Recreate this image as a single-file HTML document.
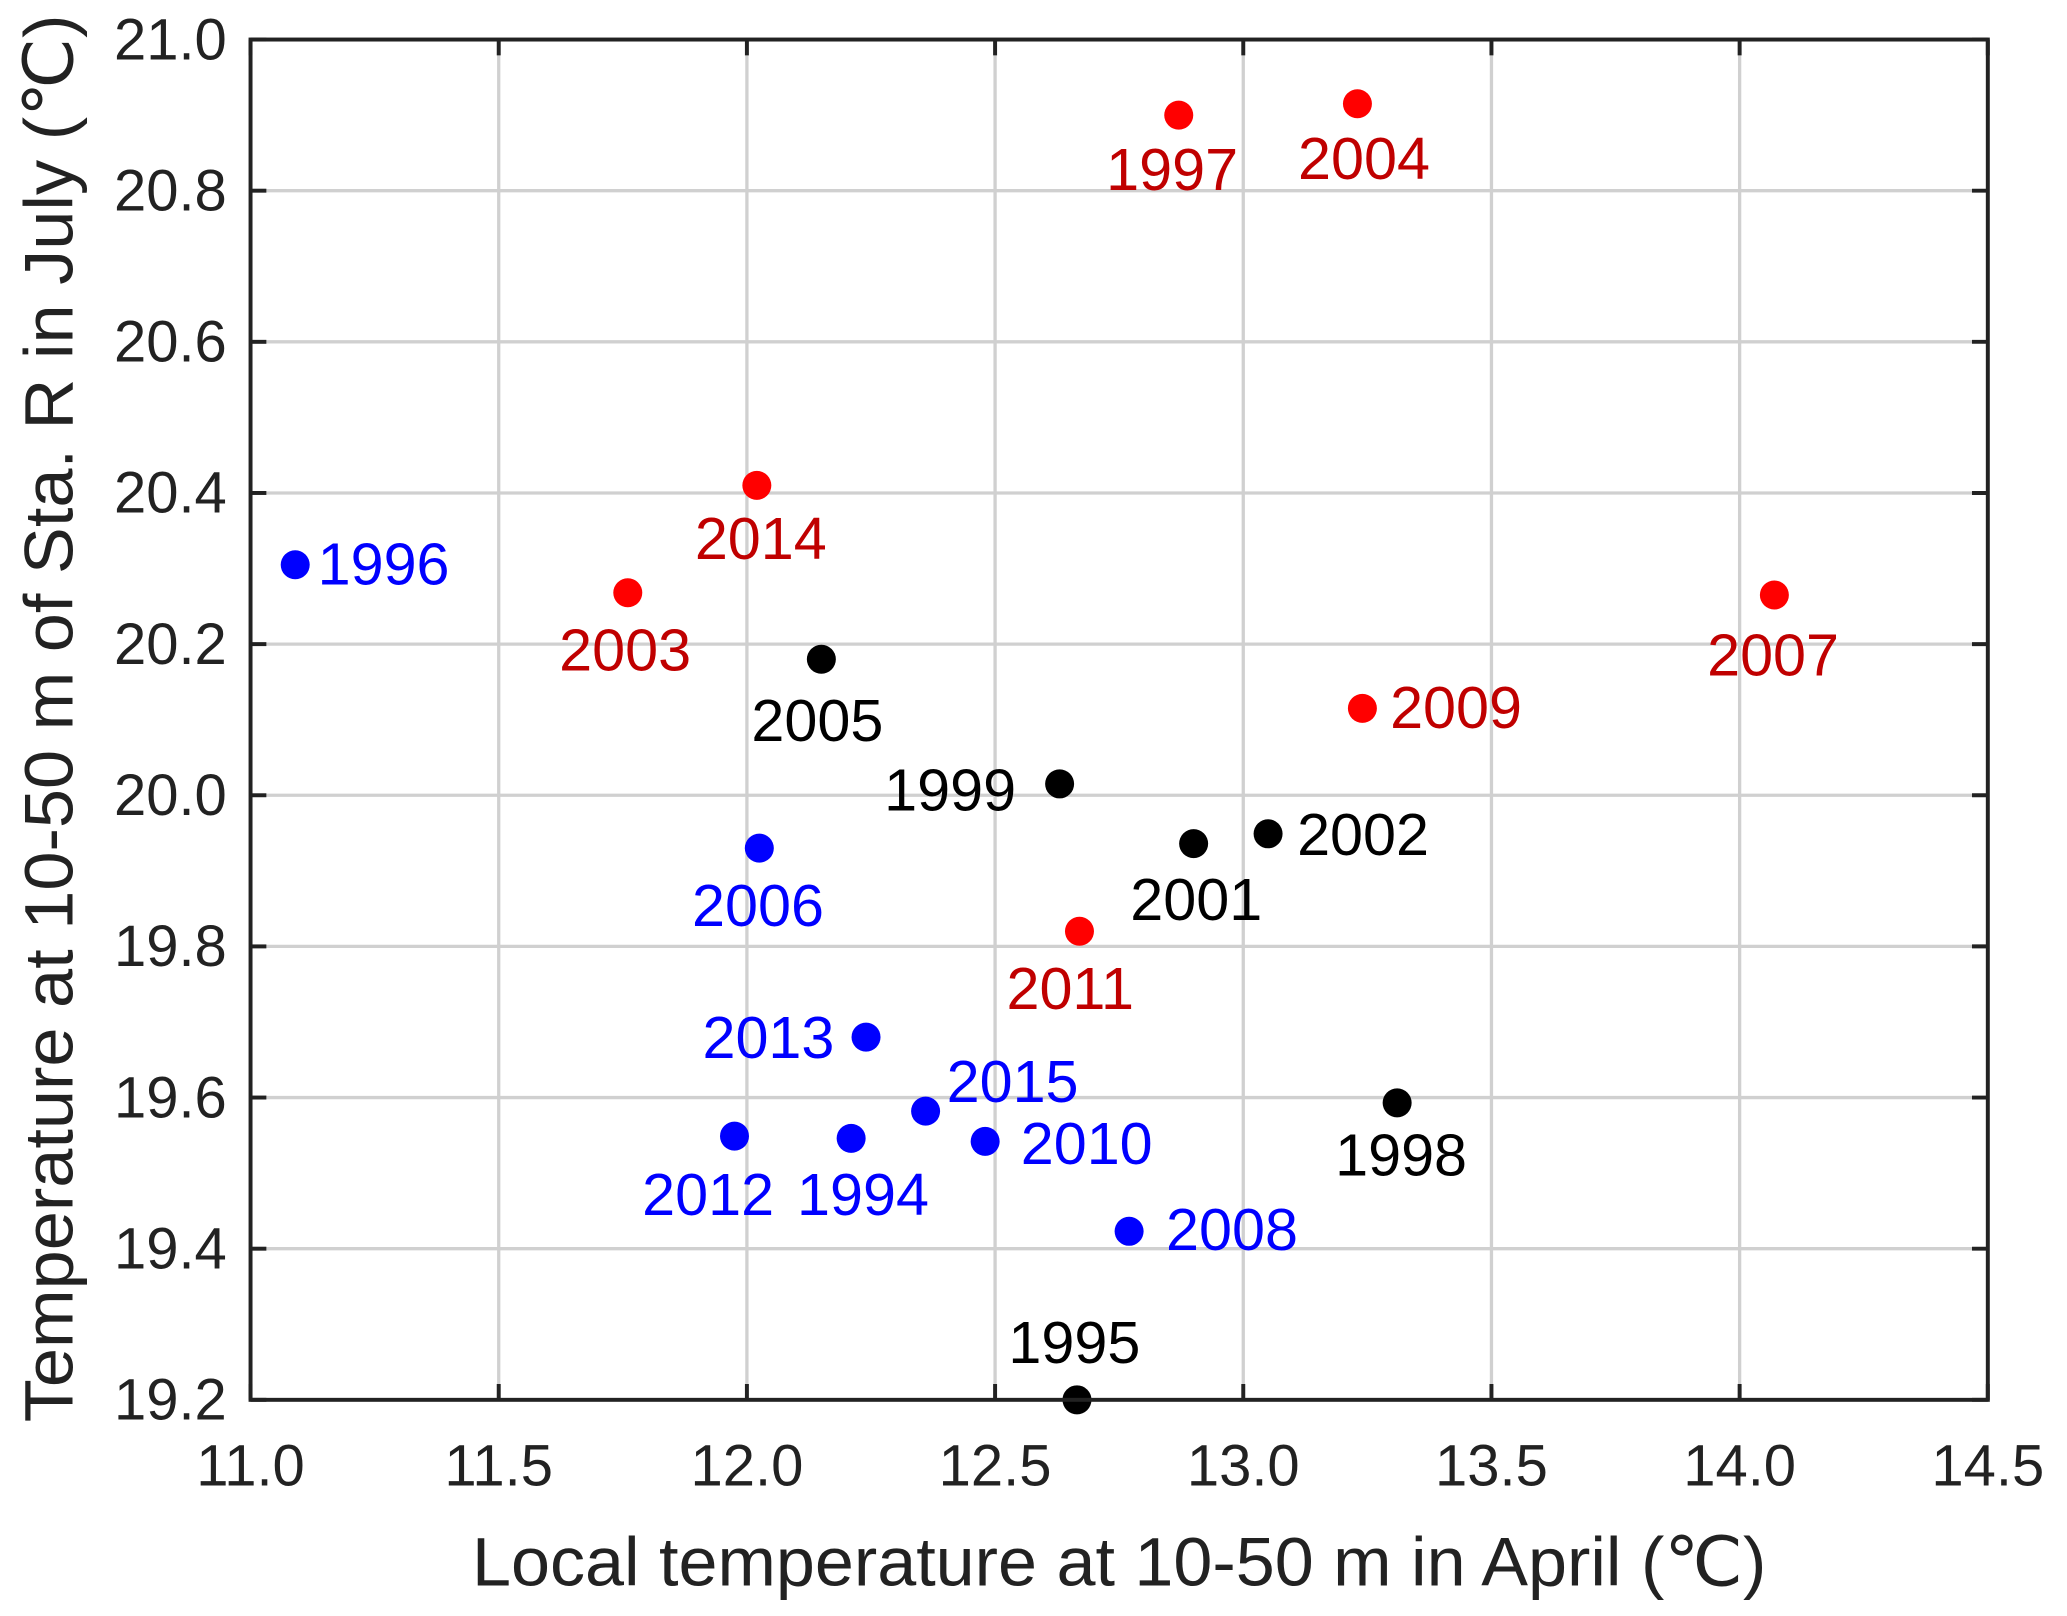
<!DOCTYPE html>
<html><head><meta charset="utf-8"><style>
html,body{margin:0;padding:0;background:#fff;}
svg{display:block;font-family:"Liberation Sans",Arial,sans-serif;}
</style></head><body>
<svg id="chart" width="2067" height="1616" viewBox="0 0 1568 1226" xmlns="http://www.w3.org/2000/svg">
<g id="grid"></g>
<g id="points"></g>
<g id="axes"></g>
<text x="849" y="1203" text-anchor="middle" font-size="52" fill="#222" textLength="982" lengthAdjust="spacingAndGlyphs">Local temperature at 10-50 m in April (℃)</text>
<text transform="translate(55,545) rotate(-90)" text-anchor="middle" font-size="52" fill="#222" textLength="1068" lengthAdjust="spacingAndGlyphs">Temperature at 10-50 m of Sta. R in July (℃)</text>
</svg>
<script>
const years = ["1996","2003","2014","2005","1997","2004","2007","2009","1999","2001","2002","2006","2011","2013","2015","2012","1994","2010","2008","1998","1995"];
const aprilTemp = [11.09,11.76,12.02,12.15,12.87,13.23,14.07,13.24,12.63,12.90,13.05,12.025,12.67,12.24,12.36,11.975,12.21,12.48,12.77,13.31,12.665];
const julyTemp = [20.305,20.268,20.41,20.18,20.90,20.915,20.265,20.115,20.015,19.936,19.949,19.93,19.82,19.68,19.582,19.549,19.546,19.542,19.423,19.593,19.2];
const group = ["blue","red","red","black","red","red","red","red","black","black","black","blue","red","blue","blue","blue","blue","blue","blue","black","black"];
const labelDx = [17,-2,3,-3,-5,5,-1,21,-33,2,22,-1,-7,-24,66,-20,9,27,28,3,-2];
const labelDy = [0,44,41,47,42,42,46,0,5,43,1,44,44,1,-22,45,43,2,-1,40,-43];
const labelAnchor = ["start","middle","middle","middle","middle","middle","middle","start","end","middle","start","middle","middle","end","middle","middle","middle","start","start","middle","middle"];
const xTicks = [11.0,11.5,12.0,12.5,13.0,13.5,14.0,14.5];
const yTicks = [19.2,19.4,19.6,19.8,20.0,20.2,20.4,20.6,20.8,21.0];

const L=190,R=1508,T=30,B=1062;
const xMin=11,xMax=14.5,yMin=19.2,yMax=21.0;
const sx=v=>L+(v-xMin)/(xMax-xMin)*(R-L);
const sy=v=>B-(v-yMin)/(yMax-yMin)*(B-T);
const NS="http://www.w3.org/2000/svg";
function mk(tag,attrs,parent){const e=document.createElementNS(NS,tag);for(const k in attrs)e.setAttribute(k,attrs[k]);parent.appendChild(e);return e;}
const grid=document.getElementById('grid'),axes=document.getElementById('axes'),pts=document.getElementById('points');
const markColor={red:"#ff0000",blue:"#0000ff",black:"#000000"};
const textColor={red:"#c00000",blue:"#0000ff",black:"#000000"};

xTicks.forEach(v=>{
  const x=sx(v);
  const g=mk('line',{x1:x,x2:x,y1:T,y2:B,stroke:"#d0d0d0","stroke-width":2.5},grid);
  
  
  [[B,B-12],[T,T+12]].forEach(p=>{const t=mk('line',{x1:x,x2:x,y1:p[0],y2:p[1],stroke:"#222","stroke-width":3},axes);
  
  });
  const lb=mk('text',{x:x,y:B+65,"text-anchor":"middle","font-size":44,fill:"#222"},axes);
  lb.textContent=v.toFixed(1);
  
  
});
yTicks.forEach(v=>{
  const y=sy(v);
  const g=mk('line',{x1:L,x2:R,y1:y,y2:y,stroke:"#d0d0d0","stroke-width":2.5},grid);
  
  
  [[L,L+12],[R,R-12]].forEach(p=>{const t=mk('line',{x1:p[0],x2:p[1],y1:y,y2:y,stroke:"#222","stroke-width":3},axes);
  
  });
  const lb=mk('text',{x:L-18,y:y+15,"text-anchor":"end","font-size":44,fill:"#222"},axes);
  lb.textContent=v.toFixed(1);
  
  
});
const box=mk('rect',{x:L,y:T,width:R-L,height:B-T,fill:"none",stroke:"#222","stroke-width":3},axes);



years.forEach((yr,i)=>{
  const cx=sx(aprilTemp[i]),cy=sy(julyTemp[i]);
  const c=mk('circle',{cx:cx,cy:cy,r:11,fill:markColor[group[i]]},pts);
  
  
  const t=mk('text',{x:cx+labelDx[i],y:cy+labelDy[i]+15,"text-anchor":labelAnchor[i],"font-size":45,fill:textColor[group[i]]},pts);
  t.textContent=yr;
  
  
});
</script>
</body></html>
